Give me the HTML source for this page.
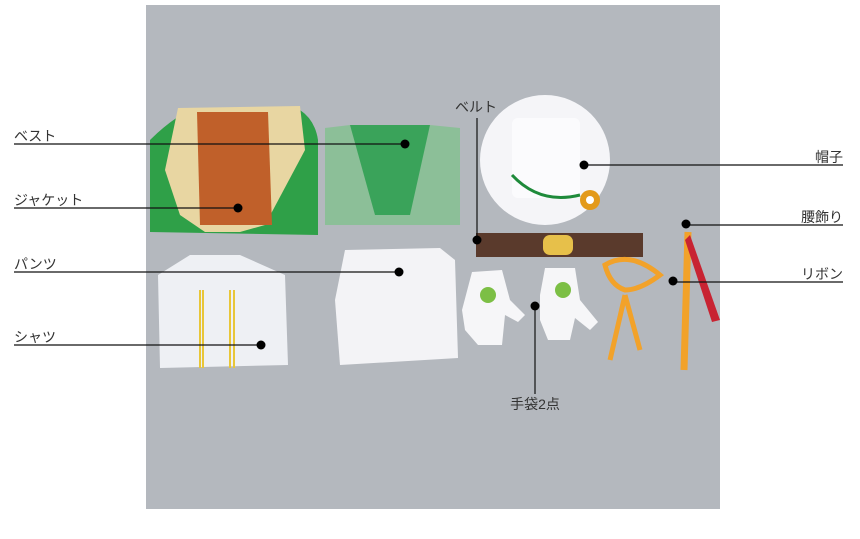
<!DOCTYPE html>
<html><head><meta charset="utf-8"><style>
html,body{margin:0;padding:0;background:#fff;}
svg{display:block;}
text{font-family:"Liberation Sans","Noto Sans CJK JP",sans-serif;font-size:14px;fill:#333;}
</style></head><body>
<svg width="860" height="539" viewBox="0 0 860 539">
<rect x="146" y="5" width="574" height="504" fill="#b4b8be"/>
<!-- jacket -->
<path d="M150 140 Q170 120 190 110 L300 110 Q315 120 318 140 L318 235 L150 232 Z" fill="#2fa048"/>
<path d="M178 108 L300 106 L305 150 L265 225 L240 232 L205 232 L180 215 L165 170 Z" fill="#e8d6a2"/>
<path d="M197 112 L268 112 L272 225 L200 225 Z" fill="#c0602a"/>
<!-- vest -->
<path d="M325 128 L350 125 L375 200 L405 200 L430 125 L460 128 L460 225 L325 225 Z" fill="#8cbf98"/>
<path d="M350 125 L430 125 L410 215 L375 215 Z" fill="#3aa35a"/>
<!-- shirt -->
<path d="M158 275 L190 255 L240 255 L285 275 L288 365 L160 368 Z" fill="#eef0f4"/>
<g stroke="#e8c638" stroke-width="2"><line x1="200" y1="290" x2="200" y2="368"/><line x1="203" y1="290" x2="203" y2="368"/><line x1="230" y1="290" x2="230" y2="368"/><line x1="234" y1="290" x2="234" y2="368"/></g>
<!-- pants -->
<path d="M345 250 L440 248 L455 260 L458 358 L340 365 L335 300 Z" fill="#f3f3f6"/>
<!-- hat -->
<circle cx="545" cy="160" r="65" fill="#f5f5f8"/>
<rect x="512" y="118" width="68" height="80" rx="6" fill="#fbfbfd"/>
<path d="M512 175 Q540 205 580 195" stroke="#1e8a3a" stroke-width="3" fill="none"/>
<circle cx="590" cy="200" r="10" fill="#e39a1a"/>
<circle cx="590" cy="200" r="4" fill="#fff"/>
<!-- belt -->
<rect x="476" y="233" width="167" height="24" fill="#5a3a2c"/>
<rect x="543" y="235" width="30" height="20" rx="7" fill="#e7c04a"/>
<!-- gloves -->
<g fill="#f6f6f8">
<path d="M472 272 L502 270 L510 300 L525 315 L518 322 L505 315 L502 345 L478 345 L465 330 L462 310 Z"/>
<path d="M545 268 L575 268 L580 300 L598 322 L590 330 L575 318 L570 340 L548 340 L540 320 L540 295 Z"/>
</g>
<circle cx="488" cy="295" r="8" fill="#7cbf45"/><circle cx="563" cy="290" r="8" fill="#7cbf45"/>
<!-- ribbon -->
<path d="M605 265 Q630 250 660 275 Q640 290 625 290 Q610 285 605 265 Z M625 295 L640 350 M625 295 L610 360" stroke="#f2a22a" stroke-width="5" fill="none"/>
<path d="M688 232 L684 370" stroke="#f2a22a" stroke-width="7"/>
<path d="M690 235 L720 320 L712 322 L685 240 Z" fill="#c82332"/>
<!-- labels -->
<g stroke="#111" stroke-width="1.2" fill="none">
<line x1="14" y1="144" x2="405" y2="144"/>
<line x1="14" y1="208" x2="238" y2="208"/>
<line x1="14" y1="272" x2="399" y2="272"/>
<line x1="14" y1="345" x2="261" y2="345"/>
<line x1="477" y1="118" x2="477" y2="240"/>
<line x1="584" y1="165" x2="843" y2="165"/>
<line x1="686" y1="225" x2="843" y2="225"/>
<line x1="673" y1="282" x2="843" y2="282"/>
<line x1="535" y1="306" x2="535" y2="394"/>
</g>
<g fill="#000">
<circle cx="405" cy="144" r="4.5"/><circle cx="238" cy="208" r="4.5"/><circle cx="399" cy="272" r="4.5"/><circle cx="261" cy="345" r="4.5"/>
<circle cx="477" cy="240" r="4.5"/><circle cx="584" cy="165" r="4.5"/><circle cx="686" cy="224" r="4.5"/><circle cx="673" cy="281" r="4.5"/><circle cx="535" cy="306" r="4.5"/>
</g>
<text x="14" y="141">ベスト</text>
<text x="14" y="205">ジャケット</text>
<text x="14" y="269">パンツ</text>
<text x="14" y="342">シャツ</text>
<text x="455" y="112">ベルト</text>
<text x="843" y="162" text-anchor="end">帽子</text>
<text x="843" y="222" text-anchor="end">腰飾り</text>
<text x="843" y="279" text-anchor="end">リボン</text>
<text x="535" y="409" text-anchor="middle">手袋2点</text>
</svg>
</body></html>
